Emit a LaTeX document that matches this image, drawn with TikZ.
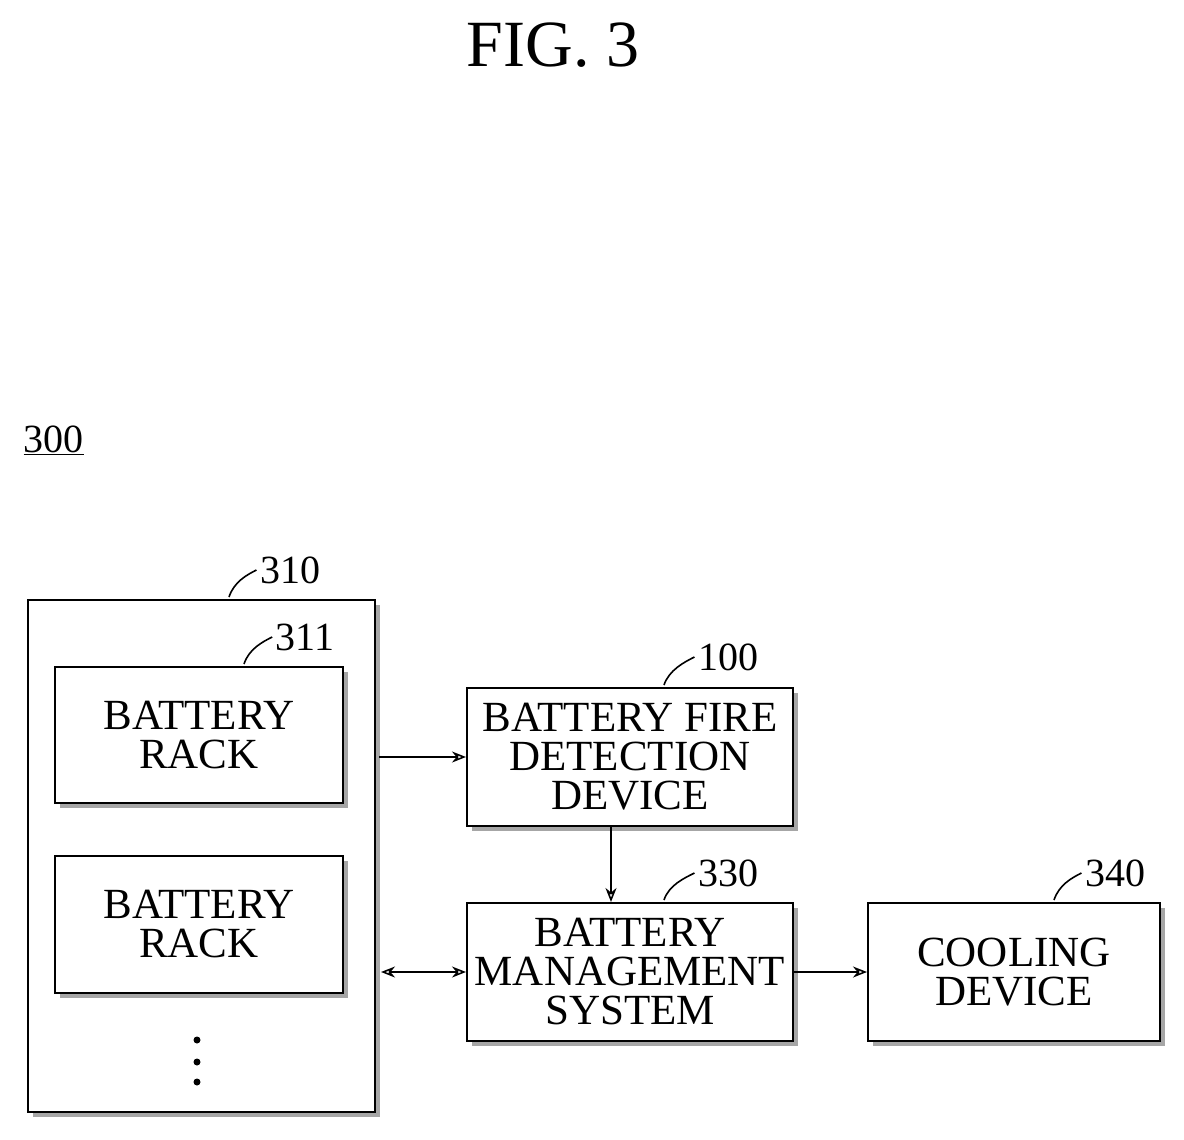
\documentclass[tikz,border=0pt]{standalone}
\usepackage{fontspec}
\setmainfont{Liberation Serif}
\usetikzlibrary{arrows.meta}
\tikzset{
  blk/.style={draw=black, line width=2pt, fill=white, minimum width=#1, inner sep=0pt,
    align=center, font=\fontsize{43}{39}\selectfont,
    general shadow={shadow xshift=5pt, shadow yshift=-5pt, fill=gray!70}},
  lbl/.style={font=\fontsize{40}{40}\selectfont},
  conn/.style={line width=1.6pt, -{Stealth[open,length=14pt,width=11pt]}},
}
\usetikzlibrary{shadows}
\begin{document}
\begin{tikzpicture}[x=1pt,y=-1pt]
\useasboundingbox (0,0) rectangle (1184,1140);
\node[font=\fontsize{66}{66}\selectfont] (fig) at (553,45) {FIG. 3};
\node[lbl, anchor=west] (sys) at (20,440) {\underline{300}};
% boxes
\node[draw=black, line width=2pt, minimum width=347pt, minimum height=512pt,
  fill=white, general shadow={shadow xshift=5pt, shadow yshift=-5pt, fill=gray!70}] (store) at (201.5,856) {};
\node[blk=288pt, minimum height=136pt] (rack1) at (199,735) {BATTERY\\RACK};
\node[blk=288pt, minimum height=137pt] (rack2) at (199,924.5) {BATTERY\\RACK};
\node[blk=326pt, minimum height=138pt] (fire) at (630,757) {BATTERY FIRE\\DETECTION\\DEVICE};
\node[blk=326pt, minimum height=138pt] (bms) at (630,972) {BATTERY\\MANAGEMENT\\SYSTEM};
\node[blk=292pt, minimum height=138pt] (cool) at (1014,972) {COOLING\\DEVICE};
\foreach \y in {1040,1062,1082} \fill (197,\y) circle (3.5pt);
% reference labels
\node[lbl] (l310) at (290,570) {310};
\node[lbl] (l311) at (305,637) {311};
\node[lbl] (l100) at (728,657) {100};
\node[lbl] (l330) at (728,873) {330};
\node[lbl] (l340) at (1115,873) {340};
\draw[line width=1.6pt] (store.north west) ++(202,-2) .. controls +(5,-15) and +(-10,5) .. (l310.west);
\draw[line width=1.6pt] (rack1.north west) ++(190,-2) .. controls +(5,-15) and +(-10,5) .. (l311.west);
\draw[line width=1.6pt] (fire.north west) ++(198,-2) .. controls +(5,-15) and +(-10,5) .. (l100.west);
\draw[line width=1.6pt] (bms.north west) ++(198,-2) .. controls +(5,-15) and +(-10,5) .. (l330.west);
\draw[line width=1.6pt] (cool.north west) ++(187,-2) .. controls +(5,-15) and +(-10,5) .. (l340.west);
% connectors
\draw[conn] (store.east |- fire.west) ++(3,0) -- (fire.west);
\draw[conn] (fire.south -| 611,0) -- (bms.north -| 611,0);
\draw[conn, {Stealth[open,length=14pt,width=11pt]}-{Stealth[open,length=14pt,width=11pt]}] (store.east |- bms.west) ++(5,0) -- (bms.west);
\draw[conn] (bms.east) -- (cool.west);
\end{tikzpicture}
\end{document}
